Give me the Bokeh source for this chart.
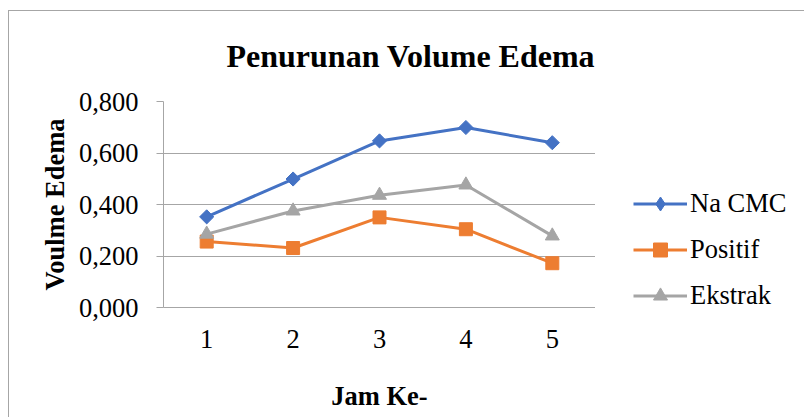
from bokeh.plotting import figure
from bokeh.models import Legend, LegendItem, FixedTicker
from bokeh.layouts import row
from bokeh.embed import file_html
from bokeh.resources import INLINE

jam = [1, 2, 3, 4, 5]
na_cmc = [0.352, 0.499, 0.647, 0.699, 0.640]
positif = [0.256, 0.231, 0.350, 0.304, 0.172]
ekstrak = [0.285, 0.375, 0.436, 0.476, 0.278]
y_ticks = [0.0, 0.2, 0.4, 0.6, 0.8]
y_labels = ["0,000", "0,200", "0,400", "0,600", "0,800"]
series = [("Na CMC", na_cmc, "#4472C4", "diamond"),
          ("Positif", positif, "#ED7D31", "square"),
          ("Ekstrak", ekstrak, "#A5A5A5", "triangle")]

FONT = "Liberation Serif"
FS = "26.5px"
GRID = "#a6a6a6"

# ---------------- main chart ----------------
p = figure(frame_width=432, frame_height=206, output_backend="svg", toolbar_location=None,
           x_range=(0.5, 5.5), y_range=(0, 0.8),
           min_border_left=154, min_border_right=0, min_border_top=90, min_border_bottom=110)

p.title.text = "Penurunan Volume Edema"
p.title.text_font = FONT
p.title.text_font_size = "32px"
p.title.text_font_style = "bold"
p.title.align = "left"
p.title.vertical_align = "top"
p.title.offset = 63
p.title.standoff = 52
p.title.text_color = "black"

p.outline_line_color = None
p.border_fill_color = "white"

p.xaxis.ticker = FixedTicker(ticks=jam)
p.xaxis.major_tick_line_color = None
p.xaxis.minor_tick_line_color = None
p.xaxis.axis_line_color = GRID
p.xaxis.major_label_text_font = FONT
p.xaxis.major_label_text_font_size = FS
p.xaxis.major_label_text_color = "black"
p.xaxis.major_label_standoff = 16
p.xaxis.axis_label = "Jam Ke-"
p.xaxis.axis_label_text_font = FONT
p.xaxis.axis_label_text_font_size = FS
p.xaxis.axis_label_text_font_style = "bold"
p.xaxis.axis_label_text_color = "black"
p.xaxis.axis_label_standoff = 30

p.yaxis.ticker = FixedTicker(ticks=y_ticks)
p.yaxis.major_label_overrides = {t: l for t, l in zip(y_ticks, y_labels)}
p.yaxis.minor_tick_line_color = None
p.yaxis.major_tick_in = 0
p.yaxis.major_tick_out = 7
p.yaxis.major_tick_line_color = GRID
p.yaxis.axis_line_color = GRID
p.yaxis.major_label_text_font = FONT
p.yaxis.major_label_text_font_size = FS
p.yaxis.major_label_text_color = "black"
p.yaxis.major_label_standoff = 18
p.yaxis.axis_label = "Voulme Edema"
p.yaxis.axis_label_text_font = FONT
p.yaxis.axis_label_text_font_size = FS
p.yaxis.axis_label_text_font_style = "bold"
p.yaxis.axis_label_text_color = "black"
p.yaxis.axis_label_standoff = 6

p.xgrid.grid_line_color = None
p.ygrid.grid_line_color = GRID
p.ygrid.ticker = FixedTicker(ticks=y_ticks)

for name, vals, col, mk in series:
    p.line(jam, vals, line_color=col, line_width=3)
    if mk == "diamond":
        p.scatter(jam, vals, marker="square", angle=0.785398, size=10, fill_color=col, line_color=col)
    elif mk == "square":
        p.scatter(jam, vals, marker="square", size=13, fill_color=col, line_color=col)
    else:
        p.scatter(jam, vals, marker="triangle", size=14, fill_color=col, line_color=col)

# ---------------- legend panel (same series, drawn out of view) ----------------
q = figure(width=209, height=406, output_backend="svg", toolbar_location=None,
           x_range=(100, 101), y_range=(100, 101), x_axis_type=None, y_axis_type=None,
           min_border=0)
q.outline_line_color = None
q.xgrid.visible = False
q.ygrid.visible = False
q.border_fill_color = "white"

items = []
for name, vals, col, mk in series:
    lr = q.line(jam, vals, line_color=col, line_width=3)
    mr = q.scatter(jam, vals, marker=mk, size=14, fill_color=col, line_color=col)
    items.append(LegendItem(label=name, renderers=[lr, mr]))

legend = Legend(items=items, location=(38, -6))
legend.border_line_color = None
legend.background_fill_alpha = 0
legend.padding = 0
legend.margin = 0
legend.spacing = 11
legend.glyph_width = 54
legend.glyph_height = 35
legend.label_height = 35
legend.label_standoff = 3
legend.label_text_font = FONT
legend.label_text_font_size = FS
legend.label_text_color = "black"
q.add_layout(legend, "center")

layout = row(p, q, spacing=0,
             styles={"border-top": "1px solid #a6a6a6", "border-left": "1px solid #a6a6a6",
                     "margin-top": "10px", "margin-left": "8px", "background": "white"})

open("out.html", "w").write(file_html(layout, INLINE))
